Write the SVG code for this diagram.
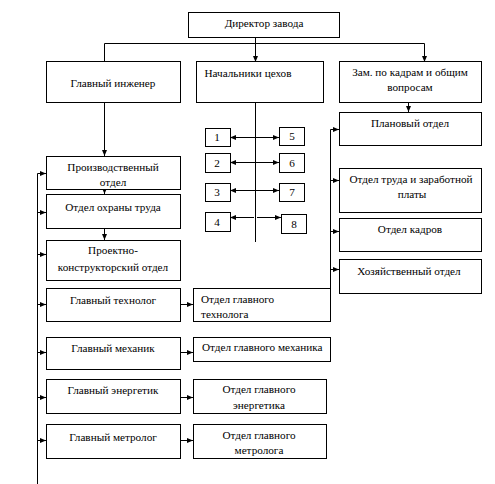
<svg xmlns="http://www.w3.org/2000/svg" width="495" height="484" viewBox="0 0 495 484">
<style>
rect{fill:#fff;stroke:#000;stroke-width:1}
text{font-family:"Liberation Serif","Times New Roman",serif;font-size:11.2px;fill:#000}
.c{text-anchor:middle}
#connectors path{fill:none;stroke:#000;stroke-width:1}
.a{marker-end:url(#ah)}
</style>
<defs>
<marker id="ah" viewBox="0 0 6 6" refX="6" refY="3" markerWidth="6" markerHeight="6" markerUnits="userSpaceOnUse" orient="auto"><path d="M0,0.5 L6,3 L0,5.5 Z" fill="#000"/></marker>
</defs>
<rect width="495" height="484" style="fill:#fff;stroke:none"/>
<g id="connectors">
<path d="M255.5,37 V62" class="a"/>
<path d="M104.5,62 V43.5 H424.5 V62" class="a"/>
<path d="M104.5,98 V156" class="a"/>
<path d="M104.5,189 V194" class="a"/>
<path d="M104.5,228 V240" class="a"/>
<path d="M408.5,102 V112" class="a"/>
<path d="M255.5,98 V242"/>
<path d="M255,137.5 H230" class="a"/>
<path d="M255,137.5 H279" class="a"/>
<path d="M255,162.5 H230" class="a"/>
<path d="M255,162.5 H279" class="a"/>
<path d="M255,190.5 H230" class="a"/>
<path d="M255,190.5 H279" class="a"/>
<path d="M254,217.5 H230" class="a"/>
<path d="M257,217.5 H281" class="a"/>
<path d="M330.5,288 V129.5 H339" class="a"/>
<path d="M330.5,180.5 H339" class="a"/>
<path d="M330.5,231.5 H339" class="a"/>
<path d="M330.5,269.5 H339" class="a"/>
<path d="M37.5,484 V173.5 H46" class="a"/>
<path d="M37.5,212.5 H46" class="a"/>
<path d="M37.5,254.5 H46" class="a"/>
<path d="M37.5,304.5 H46" class="a"/>
<path d="M37.5,352.5 H46" class="a"/>
<path d="M37.5,397.5 H46" class="a"/>
<path d="M37.5,440.5 H46" class="a"/>
<path d="M180,304.5 H193" class="a"/>
<path d="M180,352.5 H193" class="a"/>
<path d="M180,397.5 H193" class="a"/>
<path d="M180,440.5 H193" class="a"/>
</g>
<g id="director"><rect x="188.5" y="12.5" width="151" height="25"/><text x="264" y="27" class="c">Директор завода</text></g>
<g id="chief-engineer"><rect x="46.5" y="61.5" width="134" height="41"/><text x="113" y="87" class="c">Главный инженер</text></g>
<g id="shop-heads"><rect x="196.5" y="61.5" width="127" height="41"/><text x="248" y="77" class="c">Начальники цехов</text></g>
<g id="deputy"><rect x="339.5" y="61.5" width="142" height="41"/><text x="410" y="76" class="c">Зам. по кадрам и общим</text><text x="410" y="91" class="c">вопросам</text></g>
<g id="planning"><rect x="339.5" y="112.5" width="142" height="33"/><text x="410" y="127" class="c">Плановый отдел</text></g>
<g id="labour"><rect x="339.5" y="168.5" width="142" height="44"/><text x="411" y="183" class="c">Отдел труда и заработной</text><text x="412" y="198" class="c">платы</text></g>
<g id="personnel"><rect x="339.5" y="218.5" width="142" height="33"/><text x="410" y="233" class="c">Отдел кадров</text></g>
<g id="household"><rect x="339.5" y="259.5" width="142" height="34"/><text x="409" y="275" class="c">Хозяйственный отдел</text></g>
<g id="shop1"><rect x="205.5" y="128.5" width="25" height="18"/><text x="217" y="141" class="c">1</text></g>
<g id="shop2"><rect x="205.5" y="153.5" width="25" height="19"/><text x="217" y="167" class="c">2</text></g>
<g id="shop3"><rect x="205.5" y="183.5" width="25" height="18"/><text x="217" y="196" class="c">3</text></g>
<g id="shop4"><rect x="205.5" y="212.5" width="25" height="19"/><text x="217" y="226" class="c">4</text></g>
<g id="shop5"><rect x="279.5" y="127.5" width="25" height="18"/><text x="292" y="140" class="c">5</text></g>
<g id="shop6"><rect x="279.5" y="153.5" width="25" height="19"/><text x="292" y="167" class="c">6</text></g>
<g id="shop7"><rect x="279.5" y="183.5" width="25" height="18"/><text x="292" y="196" class="c">7</text></g>
<g id="shop8"><rect x="281.5" y="214.5" width="25" height="19"/><text x="294" y="228" class="c">8</text></g>
<g id="production"><rect x="46.5" y="156.5" width="134" height="33"/><text x="113" y="171" class="c">Производственный</text><text x="113" y="186" class="c">отдел</text></g>
<g id="safety"><rect x="46.5" y="194.5" width="134" height="34"/><text x="113" y="211" class="c">Отдел охраны труда</text></g>
<g id="design"><rect x="46.5" y="240.5" width="134" height="40"/><text x="113" y="254" class="c">Проектно-</text><text x="113" y="271" class="c">конструкторский отдел</text></g>
<g id="chief-technologist"><rect x="46.5" y="288.5" width="134" height="33"/><text x="113" y="304" class="c">Главный технолог</text></g>
<g id="chief-mechanic"><rect x="46.5" y="337.5" width="134" height="32"/><text x="113" y="352" class="c">Главный механик</text></g>
<g id="chief-power"><rect x="46.5" y="379.5" width="134" height="34"/><text x="113" y="394" class="c">Главный энергетик</text></g>
<g id="chief-metrologist"><rect x="46.5" y="424.5" width="134" height="34"/><text x="113" y="441" class="c">Главный метролог</text></g>
<g id="tech-dept"><rect x="193.5" y="288.5" width="137" height="33"/><text x="201" y="303">Отдел главного</text><text x="201" y="318">технолога</text></g>
<g id="mech-dept"><rect x="193.5" y="337.5" width="137" height="24"/><text x="202" y="351">Отдел главного механика</text></g>
<g id="power-dept"><rect x="193.5" y="379.5" width="133" height="34"/><text x="259" y="393" class="c">Отдел главного</text><text x="259" y="409" class="c">энергетика</text></g>
<g id="metro-dept"><rect x="193.5" y="424.5" width="133" height="34"/><text x="259" y="439" class="c">Отдел главного</text><text x="259" y="454" class="c">метролога</text></g>
</svg>
